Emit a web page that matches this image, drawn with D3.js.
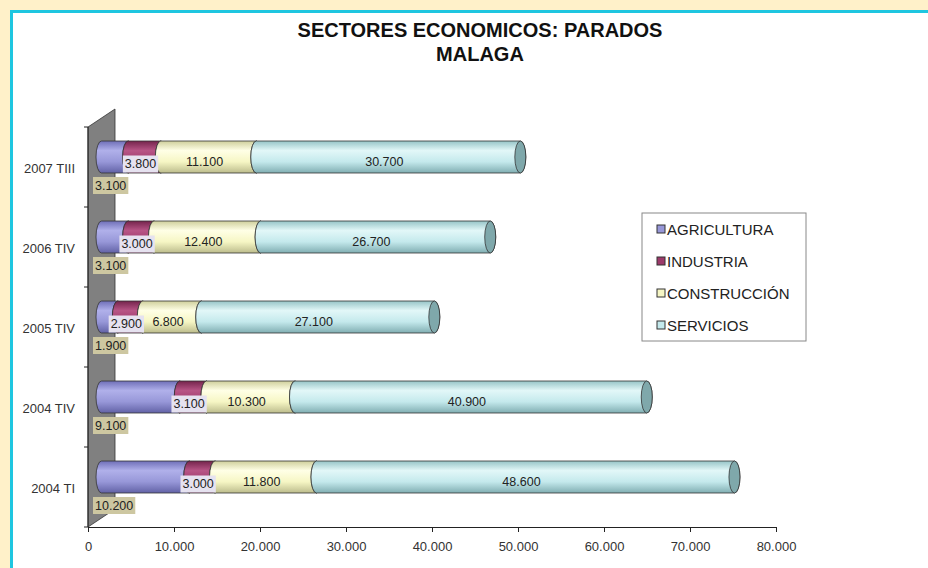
<!DOCTYPE html>
<html>
<head>
<meta charset="utf-8">
<script src="https://cdn.jsdelivr.net/npm/d3@7"></script>
<style>
  body { margin: 0; background: #fff1c9; }
  svg { display: block; font-family: "Liberation Sans", Arial, sans-serif; }
</style>
</head>
<body>
<div id="chart"></div>
<script>
// 数据
const categories = ['2007 TIII', '2006 TIV', '2005 TIV', '2004 TIV', '2004 TI'];
const seriesNames = ['AGRICULTURA', 'INDUSTRIA', 'CONSTRUCCIÓN', 'SERVICIOS'];
const agricultura = [3100, 3100, 1900, 9100, 10200];
const industria = [3800, 3000, 2900, 3100, 3000];
const construccion = [11100, 12400, 6800, 10300, 11800];
const servicios = [30700, 26700, 27100, 40900, 48600];
const xTicks = [0, 10000, 20000, 30000, 40000, 50000, 60000, 70000, 80000];

const width = 928, height = 568;
const depth = { dx: 27, dy: -18 }; // 3D 深度
const barH = 32;

// 颜色: [top, highlight, mid, bottom, cap]
const palettes = [
    ['#6f6fb8', '#b0b0ea', '#9797d8', '#6262a6', '#7676bd'],
    ['#74244c', '#b85586', '#9c3a6a', '#5e1a3c', '#7e2c55'],
    ['#cfcf9c', '#ffffe6', '#f6f6c4', '#bcbc8c', '#d4d4a2'],
    ['#96c4c7', '#e2f7f8', '#c4e9ec', '#80aeb2', '#7fa8ab']
];

const fmt = d3.formatLocale({ decimal: ',', thousands: '.', grouping: [3], currency: ['', '€'] }).format(',d');

const svg = d3.select('#chart').append('svg')
    .attr('width', width)
    .attr('height', height);

// 背景和边框
svg.append('rect').attr('width', width).attr('height', height).attr('fill', '#fff1c9');
svg.append('rect').attr('x', 10).attr('y', 10).attr('width', width).attr('height', height).attr('fill', '#1ec6e0');
svg.append('rect').attr('x', 13).attr('y', 13).attr('width', width).attr('height', height).attr('fill', '#ffffff');

// 渐变
const defs = svg.append('defs');
palettes.forEach((p, i) => {
    const g = defs.append('linearGradient')
        .attr('id', 'grad' + i)
        .attr('x1', 0).attr('y1', 0).attr('x2', 0).attr('y2', 1);
    [[0, p[0]], [0.3, p[1]], [0.65, p[2]], [1, p[3]]].forEach(([o, c]) => {
        g.append('stop').attr('offset', o).attr('stop-color', c);
    });
});

// 标题
svg.append('text')
    .attr('x', 480).attr('y', 37)
    .attr('text-anchor', 'middle')
    .attr('font-size', '20px').attr('font-weight', 'bold').attr('fill', '#111')
    .text('SECTORES ECONOMICOS: PARADOS');
svg.append('text')
    .attr('x', 480).attr('y', 61)
    .attr('text-anchor', 'middle')
    .attr('font-size', '20px').attr('font-weight', 'bold').attr('fill', '#111')
    .text('MALAGA');

// 比例尺
const xScale = d3.scaleLinear().domain([0, 80000]).range([88, 776]);
const yScale = d3.scaleBand().domain(categories).range([127, 527]);

// 侧墙
const x0 = xScale(0), yTop = yScale.range()[0], yBot = yScale.range()[1];
svg.append('path')
    .attr('d', `M${x0},${yTop}L${x0 + depth.dx},${yTop + depth.dy}L${x0 + depth.dx},${yBot + depth.dy}L${x0},${yBot}Z`)
    .attr('fill', '#808080')
    .attr('stroke', '#333')
    .attr('stroke-width', 0.8);

// 类别轴
svg.append('line')
    .attr('x1', x0).attr('x2', x0).attr('y1', yTop).attr('y2', yBot)
    .attr('stroke', '#222');
svg.selectAll('.ytick')
    .data(d3.range(categories.length + 1))
    .join('line')
    .attr('x1', x0 - 4).attr('x2', x0)
    .attr('y1', (i) => yTop + i * yScale.bandwidth())
    .attr('y2', (i) => yTop + i * yScale.bandwidth())
    .attr('stroke', '#222');
svg.selectAll('.ylabel')
    .data(categories)
    .join('text')
    .attr('x', 75)
    .attr('y', (d) => yScale(d) + yScale.bandwidth() / 2 + 6)
    .attr('text-anchor', 'end')
    .attr('font-size', '13px')
    .attr('fill', '#333')
    .text((d) => d);

// X 轴
const xAxis = d3.axisBottom(xScale)
    .tickValues(xTicks)
    .tickSize(5)
    .tickSizeOuter(0)
    .tickFormat(fmt);
const gx = svg.append('g')
    .attr('transform', `translate(0,${yBot})`)
    .call(xAxis);
gx.select('.domain').attr('stroke', '#222');
gx.selectAll('.tick line').attr('stroke', '#222');
gx.selectAll('.tick text')
    .attr('font-size', '13px')
    .attr('font-family', '"Liberation Sans", Arial, sans-serif')
    .attr('fill', '#333')
    .attr('dy', '1.25em');

// 堆叠数据
const rows = categories.map((c, i) => ({
    cat: c,
    vals: [agricultura[i], industria[i], construccion[i], servicios[i]]
}));

const rx = 5.5, ry = barH / 2;
const offX = 13.5, offY = -10;

const bars = svg.append('g');
const labels = svg.append('g');

rows.forEach((row) => {
    const cy = yScale(row.cat) + yScale.bandwidth() / 2 + offY;
    let acc = 0;
    row.vals.forEach((v, si) => {
        const a = xScale(acc) + offX;
        const b = xScale(acc + v) + offX;
        acc += v;
        // 圆柱体
        bars.append('path')
            .attr('d', `M${a},${cy - ry}L${b},${cy - ry}A${rx},${ry} 0 0 1 ${b},${cy + ry}L${a},${cy + ry}A${rx},${ry} 0 0 1 ${a},${cy - ry}Z`)
            .attr('fill', `url(#grad${si})`)
            .attr('stroke', '#333')
            .attr('stroke-width', 0.8);
        bars.append('ellipse')
            .attr('cx', b).attr('cy', cy)
            .attr('rx', rx).attr('ry', ry)
            .attr('fill', palettes[si][4])
            .attr('stroke', '#333')
            .attr('stroke-width', 0.8);

        const mid = (a + b) / 2 - 4;
        if (si === 0) {
            // 农业标签, 在柱下方
            const t = labels.append('text')
                .attr('x', 95).attr('y', cy + ry + 17)
                .attr('font-size', '12.5px').attr('fill', '#222')
                .text(fmt(v));
            const bb = t.node().getBBox();
            labels.insert('rect', () => t.node())
                .attr('x', 93).attr('y', cy + ry + 4)
                .attr('width', bb.width + 4).attr('height', 17)
                .attr('fill', '#cdc7a1');
        } else if (si === 1) {
            const t = labels.append('text')
                .attr('x', mid).attr('y', cy + 11)
                .attr('text-anchor', 'middle')
                .attr('font-size', '12.5px').attr('fill', '#222')
                .text(fmt(v));
            const bb = t.node().getBBox();
            labels.insert('rect', () => t.node())
                .attr('x', bb.x - 2).attr('y', cy - 1.5)
                .attr('width', bb.width + 4).attr('height', 17)
                .attr('fill', '#e6e2f0');
        } else {
            labels.append('text')
                .attr('x', mid).attr('y', cy + 9)
                .attr('text-anchor', 'middle')
                .attr('font-size', '12.5px').attr('fill', '#222')
                .text(fmt(v));
        }
    });
});

// 图例
const legend = svg.append('g');
legend.append('rect')
    .attr('x', 642).attr('y', 213)
    .attr('width', 164).attr('height', 128)
    .attr('fill', '#fff')
    .attr('stroke', '#888');
seriesNames.forEach((name, i) => {
    const cy = 229 + i * 32;
    legend.append('rect')
        .attr('x', 657).attr('y', cy - 4)
        .attr('width', 8).attr('height', 8)
        .attr('fill', palettes[i][2])
        .attr('stroke', '#333');
    legend.append('text')
        .attr('x', 667).attr('y', cy + 5.5)
        .attr('font-size', '15px').attr('fill', '#222')
        .text(name);
});
</script>
</body>
</html>
